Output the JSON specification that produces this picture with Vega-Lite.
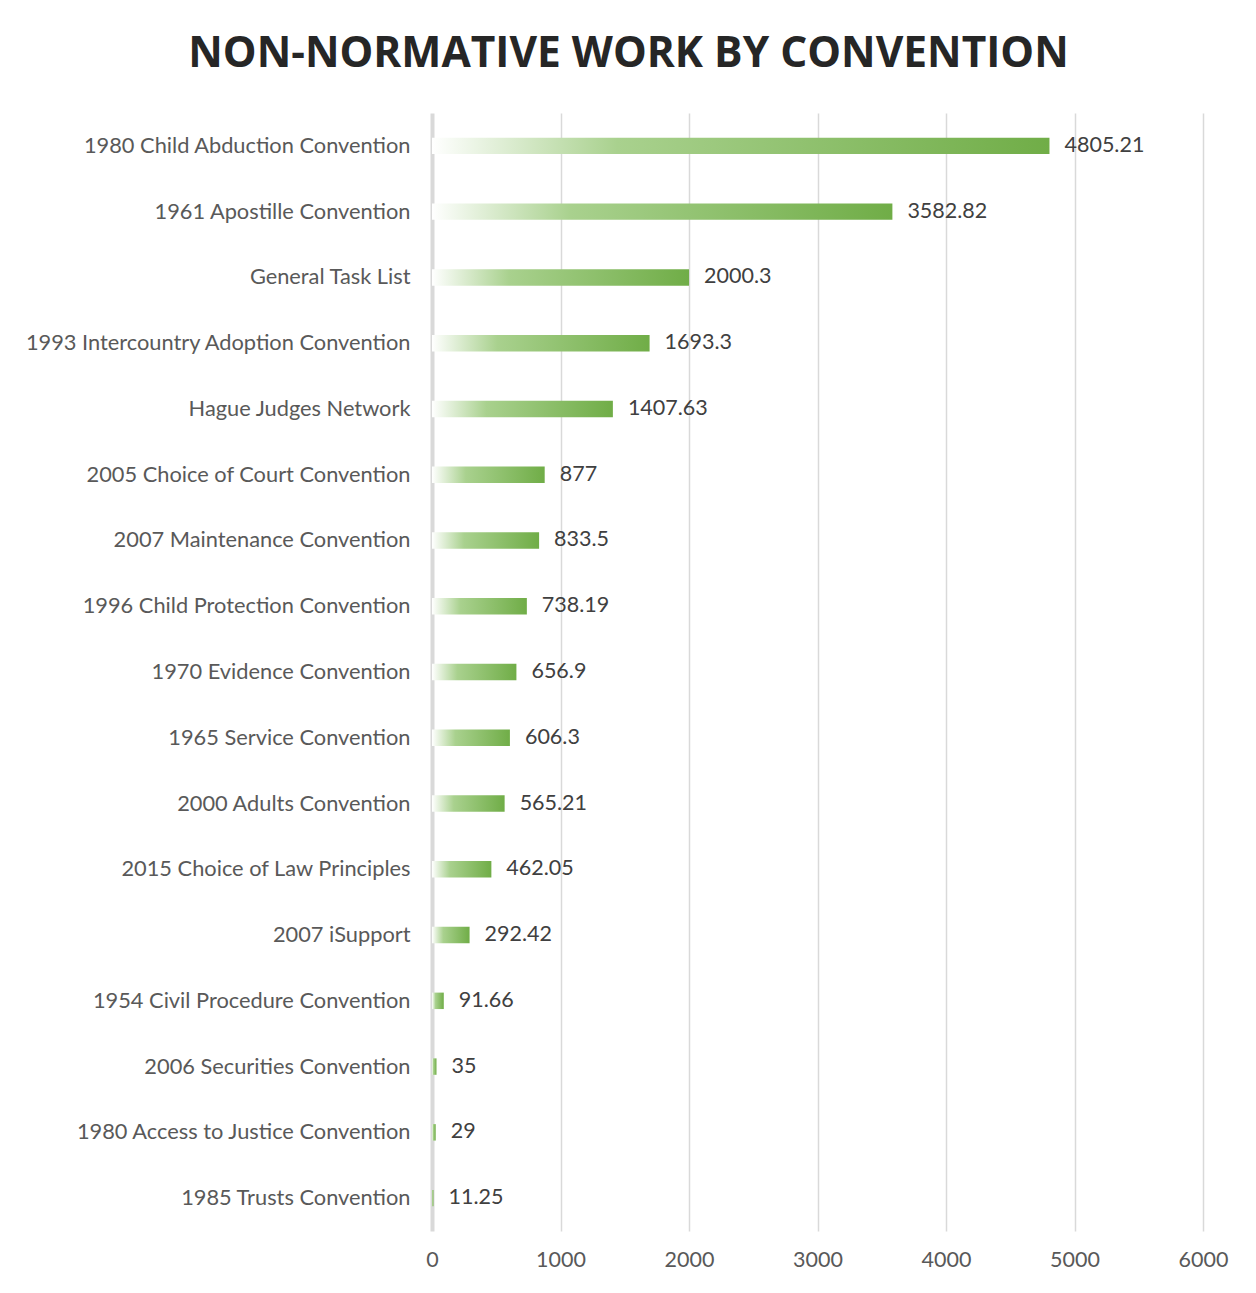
{
  "$schema": "https://vega.github.io/schema/vega-lite/v6.json",
  "width": 771,
  "height": 1118,
  "autosize": {"type": "none"},
  "padding": {"left": 432, "top": 113, "right": 53, "bottom": 62},
  "background": "#ffffff",
  "title": {
    "text": "NON-NORMATIVE WORK BY CONVENTION",
    "font": "Open Sans",
    "fontSize": 42.5,
    "fontWeight": "bold",
    "color": "#262626",
    "anchor": "middle",
    "dx": -189,
    "offset": 38
  },
  "data": {
    "values": [
      {"name": "1980 Child Abduction Convention", "value": 4805.21},
      {"name": "1961 Apostille Convention", "value": 3582.82},
      {"name": "General Task List", "value": 2000.3},
      {"name": "1993 Intercountry Adoption Convention", "value": 1693.3},
      {"name": "Hague Judges Network", "value": 1407.63},
      {"name": "2005 Choice of Court Convention", "value": 877},
      {"name": "2007 Maintenance Convention", "value": 833.5},
      {"name": "1996 Child Protection Convention", "value": 738.19},
      {"name": "1970 Evidence Convention", "value": 656.9},
      {"name": "1965 Service Convention", "value": 606.3},
      {"name": "2000 Adults Convention", "value": 565.21},
      {"name": "2015 Choice of Law Principles", "value": 462.05},
      {"name": "2007 iSupport", "value": 292.42},
      {"name": "1954 Civil Procedure Convention", "value": 91.66},
      {"name": "2006 Securities Convention", "value": 35},
      {"name": "1980 Access to Justice Convention", "value": 29},
      {"name": "1985 Trusts Convention", "value": 11.25}
    ]
  },
  "encoding": {
    "y": {
      "field": "name",
      "type": "nominal",
      "sort": null,
      "title": null,
      "scale": {"paddingInner": 0.75, "paddingOuter": 0.375},
      "axis": {
        "ticks": false,
        "domain": false,
        "labelFont": "Lato",
        "labelFontSize": 21.8,
        "labelColor": "#595959",
        "labelPadding": 22,
        "labelLimit": 430
      }
    },
    "x": {
      "field": "value",
      "type": "quantitative",
      "title": null,
      "scale": {"domain": [0, 6000], "nice": false},
      "axis": {
        "values": [0, 1000, 2000, 3000, 4000, 5000, 6000],
        "format": "d",
        "ticks": false,
        "domain": false,
        "grid": true,
        "gridColor": "#d9d9d9",
        "gridWidth": {"condition": {"test": "datum.value === 0", "value": 4}, "value": 1.5},
        "labelFont": "Lato",
        "labelFontSize": 21.5,
        "labelColor": "#595959",
        "labelPadding": 18,
        "labelFlush": false
      }
    }
  },
  "layer": [
    {
      "mark": {
        "type": "bar",
        "color": {
          "gradient": "linear",
          "x1": 0, "y1": 0, "x2": 1, "y2": 0,
          "stops": [
            {"offset": 0, "color": "#ffffff"},
            {"offset": 0.3, "color": "#a9d18e"},
            {"offset": 1, "color": "#70ad47"}
          ]
        }
      }
    },
    {
      "mark": {
        "type": "text",
        "align": "left",
        "baseline": "middle",
        "dx": 15,
        "font": "Lato",
        "fontSize": 21.5,
        "color": "#404040"
      },
      "encoding": {"text": {"field": "value", "type": "quantitative"}}
    }
  ],
  "config": {"view": {"stroke": null}}
}
